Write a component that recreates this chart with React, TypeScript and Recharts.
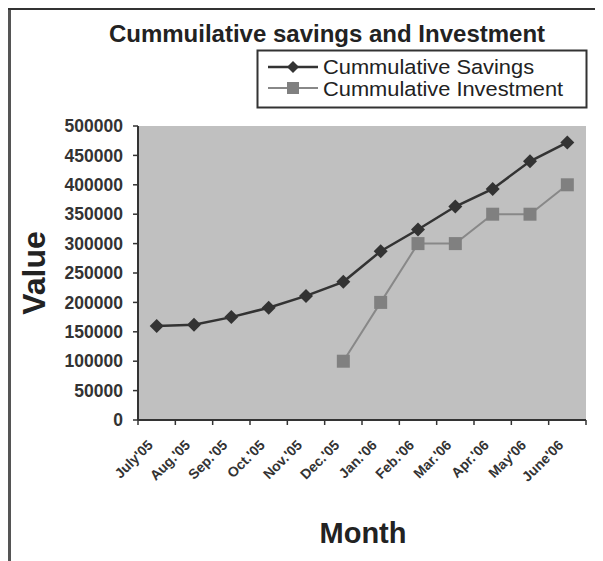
import React from 'react';
import { LineChart, Line, XAxis, YAxis, CartesianGrid } from 'recharts';

const months = ["July'05", "Aug.'05", "Sep.'05", "Oct.'05", "Nov.'05", "Dec.'05", "Jan.'06", "Feb.'06", "Mar.'06", "Apr.'06", "May'06", "June'06"];
const savings = [160000, 162000, 175000, 191000, 211000, 235000, 287000, 324000, 363000, 393000, 440000, 472000];
const investment: (number | null)[] = [null, null, null, null, null, 100000, 200000, 300000, 300000, 350000, 350000, 400000];
const yTicks = [0, 50000, 100000, 150000, 200000, 250000, 300000, 350000, 400000, 450000, 500000];
const xBoundaries = [0, 1, 2, 3, 4, 5, 6, 7, 8, 9, 10, 11, 12];

const data = months.map((m, i) => ({ pos: i + 0.5, month: m, savings: savings[i], investment: investment[i] }));

const FONT = '"Liberation Sans", Arial, sans-serif';
const W = 603;
const H = 561;
const M = { top: 126, right: 17, bottom: 81, left: 0 };
const Y_W = 138;
const PLOT_W = W - M.left - M.right - Y_W;
const BAND = PLOT_W / months.length;

const XTick = (props: any) => {
  const { x, y, payload } = props;
  const idx = payload.value;
  if (idx >= months.length) return <g />;
  const cx = x + BAND / 2 - 3;
  const cy = y + 19;
  return (
    <text x={cx} y={cy} transform={`rotate(-45 ${cx} ${cy})`} textAnchor="end" fontFamily={FONT} fontWeight="bold" fontSize={14} fill="#333">
      {months[idx]}
    </text>
  );
};

const Diamond = (props: any) => {
  const { cx, cy, index } = props;
  if (cx == null || cy == null) return <g key={`d${index}`} />;
  const s = 7;
  return <path key={`d${index}`} d={`M${cx},${cy - s}L${cx + s},${cy}L${cx},${cy + s}L${cx - s},${cy}Z`} fill="#333" />;
};

const Square = (props: any) => {
  const { cx, cy, index, value } = props;
  if (cx == null || cy == null || value == null) return <g key={`s${index}`} />;
  const s = 6.5;
  return <rect key={`s${index}`} x={cx - s} y={cy - s} width={2 * s} height={2 * s} fill="#808080" />;
};

export default function App() {
  return (
    <div style={{ position: 'relative', width: W - 8, height: H - 8 }}>
      <div style={{ position: 'absolute', left: -8, top: -8, width: W, height: H }}>
        <LineChart width={W} height={H} data={data} margin={M}>
          <CartesianGrid fill="#c0c0c0" stroke="none" horizontal={false} vertical={false} />
          <XAxis
            type="number"
            dataKey="pos"
            domain={[0, 12]}
            ticks={xBoundaries}
            interval={0}
            height={60}
            tickSize={5}
            tick={<XTick />}
            axisLine={{ stroke: '#333', strokeWidth: 2 }}
            tickLine={{ stroke: '#333', strokeWidth: 1.5 }}
          />
          <YAxis
            type="number"
            domain={[0, 500000]}
            ticks={yTicks}
            interval={0}
            width={Y_W}
            tickSize={5}
            tickMargin={10}
            axisLine={{ stroke: '#333', strokeWidth: 2 }}
            tickLine={{ stroke: '#333', strokeWidth: 1.5 }}
            tick={{ fontFamily: FONT, fontWeight: 'bold', fontSize: 17.5, fill: '#333' }}
          />
          <Line type="linear" dataKey="savings" stroke="#333" strokeWidth={2.5} dot={Diamond} activeDot={false} isAnimationActive={false} />
          <Line type="linear" dataKey="investment" stroke="#888" strokeWidth={2} dot={Square} activeDot={false} isAnimationActive={false} />
        </LineChart>
        <svg width={W} height={H} style={{ position: 'absolute', left: 0, top: 0, pointerEvents: 'none' }}>
          <line x1={9.5} y1={8} x2={9.5} y2={H} stroke="#555" strokeWidth={3} />
          <line x1={8} y1={8.5} x2={W} y2={8.5} stroke="#333" strokeWidth={3} />
          <text x={327} y={42} textAnchor="middle" fontFamily={FONT} fontWeight="bold" fontSize={24} fill="#222">
            Cummuilative savings and Investment
          </text>
          <rect x={257.5} y={50.5} width={329} height={57} fill="#fff" stroke="#333" strokeWidth={2} />
          <line x1={268} y1={67} x2={318} y2={67} stroke="#333" strokeWidth={2.5} />
          <path d="M293,61L299,67L293,73L287,67Z" fill="#333" />
          <text x={0} y={0} transform="translate(323 74) scale(1.12 1)" fontFamily={FONT} fontSize={19.5} fill="#222">Cummulative Savings</text>
          <line x1={268} y1={88} x2={318} y2={88} stroke="#888" strokeWidth={2} />
          <rect x={287} y={82} width={12} height={12} fill="#808080" />
          <text x={0} y={0} transform="translate(323 96) scale(1.12 1)" fontFamily={FONT} fontSize={19.5} fill="#222">Cummulative Investment</text>
          <text x={45} y={273} transform="rotate(-90 45 273)" textAnchor="middle" fontFamily={FONT} fontWeight="bold" fontSize={32} fill="#222">
            Value
          </text>
          <text x={363} y={543} textAnchor="middle" fontFamily={FONT} fontWeight="bold" fontSize={29} fill="#222">
            Month
          </text>
        </svg>
      </div>
    </div>
  );
}
